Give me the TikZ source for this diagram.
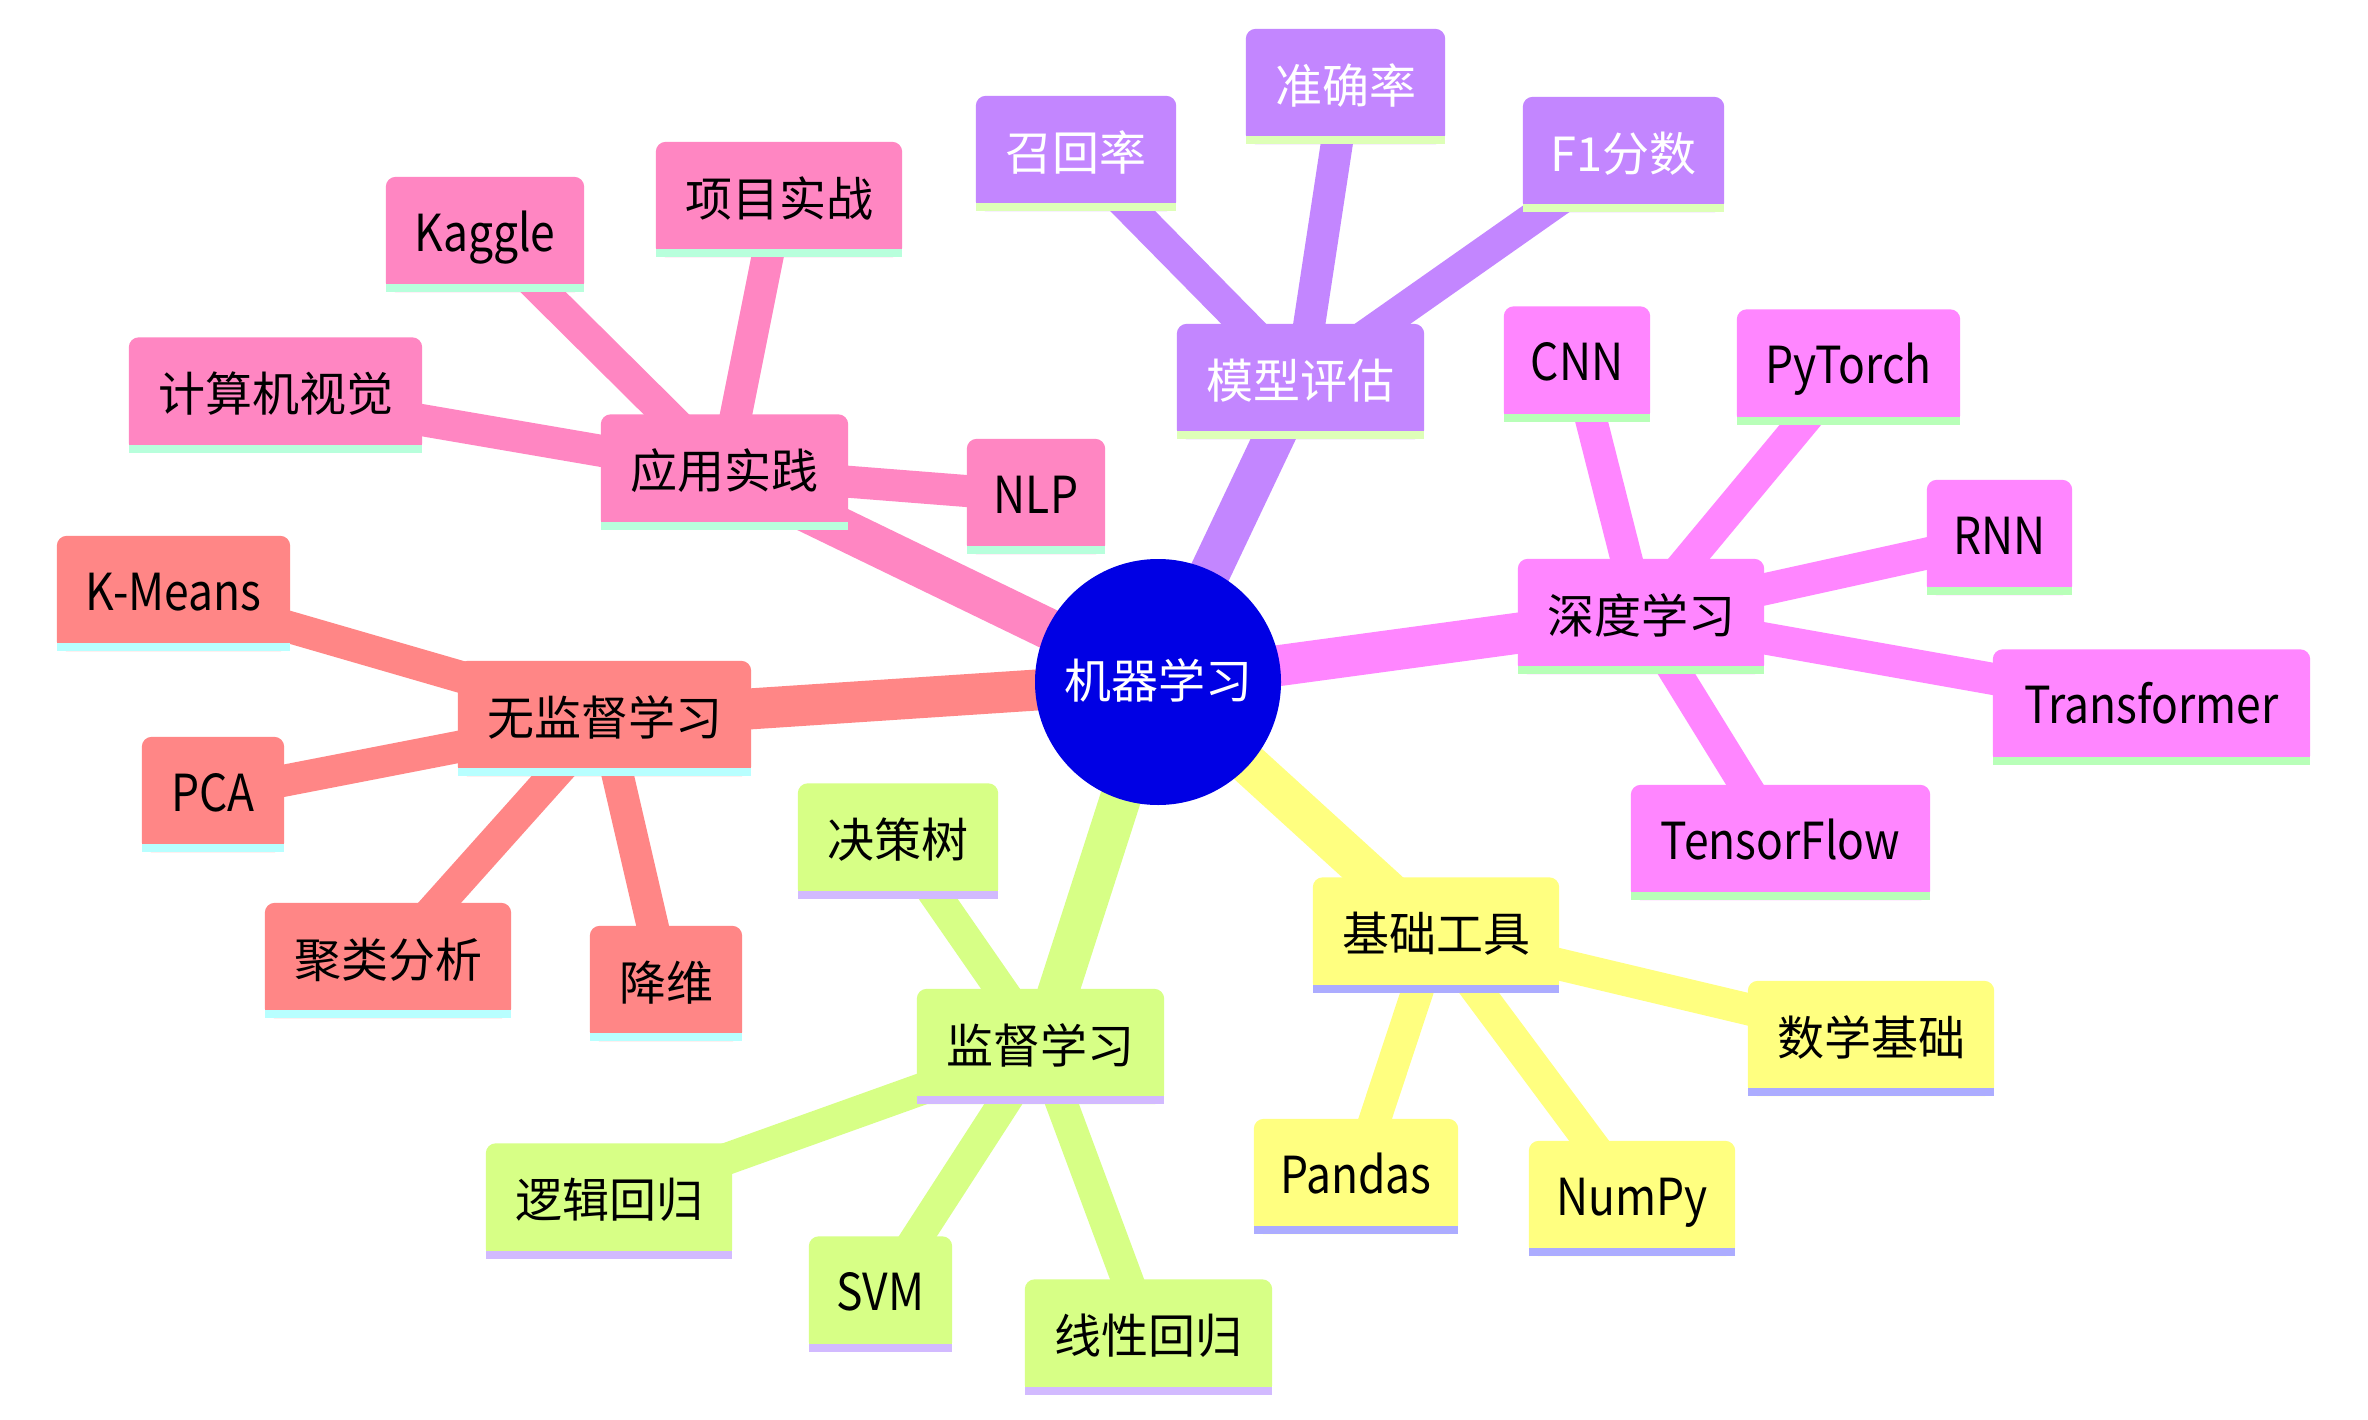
\documentclass[tikz,border=0pt]{standalone}
\usepackage{fontspec}
\setmainfont{Noto Sans CJK SC}
\newfontfamily\latinfont{Noto Sans CJK SC}[FakeStretch=0.87]
\usetikzlibrary{calc}
\pgfdeclarelayer{bg}
\pgfdeclarelayer{edges}
\pgfdeclarelayer{boxes}
\pgfsetlayers{bg,edges,boxes,main}
\definecolor{rootc}{RGB}{0,0,228}
\definecolor{cpink}{RGB}{255,134,194}
\definecolor{spink}{RGB}{184,255,220}
\definecolor{csalm}{RGB}{255,134,134}
\definecolor{ssalm}{RGB}{184,255,255}
\definecolor{clime}{RGB}{215,255,134}
\definecolor{slime}{RGB}{210,186,255}
\definecolor{cyell}{RGB}{255,255,128}
\definecolor{syell}{RGB}{172,172,255}
\definecolor{cmag}{RGB}{255,134,255}
\definecolor{smag}{RGB}{184,255,184}
\definecolor{cpurp}{RGB}{195,134,255}
\definecolor{spurp}{RGB}{222,255,184}
\tikzset{
  mmbox/.style={rectangle, inner sep=0pt, minimum height=115pt, text height=40.4pt, text depth=6.6pt,
    font=\fontsize{47pt}{56pt}\selectfont, text=black},
  latin/.style={font=\latinfont\fontsize{51pt}{60pt}\selectfont},
  rootedge/.style={line width=41pt},
  subedge/.style={line width=32pt}
}
\begin{document}
\begin{tikzpicture}[x=1pt,y=-1pt]
\begin{pgfonlayer}{bg}
\fill[white] (0,0) rectangle (2368,1420);
\end{pgfonlayer}
\useasboundingbox (0,0) rectangle (2368,1420);
% root
\node[circle, fill=rootc, minimum size=246pt, inner sep=0pt, text=white, text height=40.4pt, text depth=6.6pt,
  font=\fontsize{47pt}{56pt}\selectfont] (root) at (1158,682) {机器学习};
% pink section
\node[mmbox, minimum width=247pt] (yyss) at (724.5,472) {应用实践};
\node[mmbox, latin, minimum width=198pt] (kaggle) at (485,234.5) {Kaggle};
\node[mmbox, minimum width=246pt] (xmsz) at (779,199.5) {项目实战};
\node[mmbox, minimum width=293pt] (jsjsj) at (275.5,395) {计算机视觉};
\node[mmbox, latin, minimum width=138pt] (nlp) at (1036,496.5) {NLP};
% salmon section
\node[mmbox, minimum width=293pt] (wjd) at (604.5,718.5) {无监督学习};
\node[mmbox, latin, minimum width=233pt] (kmeans) at (173.5,593.5) {K-Means};
\node[mmbox, latin, minimum width=142pt] (pca) at (213,794.5) {PCA};
\node[mmbox, minimum width=246pt] (jlfx) at (388,960.5) {聚类分析};
\node[mmbox, minimum width=152pt] (jw) at (666,983.5) {降维};
% lime section
\node[mmbox, minimum width=247pt] (jd) at (1040.5,1046.5) {监督学习};
\node[mmbox, minimum width=200pt] (jcs) at (898,841) {决策树};
\node[mmbox, minimum width=246pt] (ljhg) at (609,1201) {逻辑回归};
\node[mmbox, latin, minimum width=143pt] (svm) at (880.5,1294) {SVM};
\node[mmbox, minimum width=247pt] (xxhg) at (1148.5,1337) {线性回归};
% yellow section
\node[mmbox, minimum width=246pt] (jcgj) at (1436,935) {基础工具};
\node[mmbox, minimum width=246pt] (sxjc) at (1871,1038.5) {数学基础};
\node[mmbox, latin, minimum width=204pt] (pandas) at (1356,1176.5) {Pandas};
\node[mmbox, latin, minimum width=206pt] (numpy) at (1632,1198.5) {NumPy};
% magenta section
\node[mmbox, minimum width=246pt] (sdxx) at (1641,616.5) {深度学习};
\node[mmbox, latin, minimum width=146pt] (cnn) at (1577,364) {CNN};
\node[mmbox, latin, minimum width=223pt] (pytorch) at (1848.5,367) {PyTorch};
\node[mmbox, latin, minimum width=145pt] (rnn) at (1999.5,537.5) {RNN};
\node[mmbox, latin, minimum width=317pt] (transformer) at (2151.5,707) {Transformer};
\node[mmbox, latin, minimum width=299pt] (tensorflow) at (1780.5,842.5) {TensorFlow};
% purple section
\node[mmbox, minimum width=247pt, text=white] (mxpg) at (1300.5,381.5) {模型评估};
\node[mmbox, minimum width=200pt, text=white] (zhl) at (1076,153.5) {召回率};
\node[mmbox, minimum width=199pt, text=white] (zql) at (1345.5,86.5) {准确率};
\node[mmbox, minimum width=201pt, text=white] (f1) at (1623.5,154.5) {F1分数};

\begin{pgfonlayer}{boxes}
\foreach \n/\f/\s in {yyss/cpink/spink, kaggle/cpink/spink, xmsz/cpink/spink, jsjsj/cpink/spink, nlp/cpink/spink,
  wjd/csalm/ssalm, kmeans/csalm/ssalm, pca/csalm/ssalm, jlfx/csalm/ssalm, jw/csalm/ssalm,
  jd/clime/slime, jcs/clime/slime, ljhg/clime/slime, svm/clime/slime, xxhg/clime/slime,
  jcgj/cyell/syell, sxjc/cyell/syell, pandas/cyell/syell, numpy/cyell/syell,
  sdxx/cmag/smag, cnn/cmag/smag, pytorch/cmag/smag, rnn/cmag/smag, transformer/cmag/smag, tensorflow/cmag/smag,
  mxpg/cpurp/spurp, zhl/cpurp/spurp, zql/cpurp/spurp, f1/cpurp/spurp}{
  \fill[\f, rounded corners=10pt] (\n.south west) rectangle (\n.north east);
  \fill[\f] (\n.south west) rectangle ([yshift=30pt]\n.south east);
  \fill[\s] (\n.south west) rectangle ([yshift=8pt]\n.south east);
}
\end{pgfonlayer}

\begin{pgfonlayer}{edges}
\foreach \b/\c in {yyss/cpink, wjd/csalm, jd/clime, jcgj/cyell, sdxx/cmag, mxpg/cpurp}
  \draw[rootedge, \c] (root.center) -- (\b.center);
\foreach \a/\b/\c in {yyss/kaggle/cpink, yyss/xmsz/cpink, yyss/jsjsj/cpink, yyss/nlp/cpink,
  wjd/kmeans/csalm, wjd/pca/csalm, wjd/jlfx/csalm, wjd/jw/csalm,
  jd/jcs/clime, jd/ljhg/clime, jd/svm/clime, jd/xxhg/clime,
  jcgj/sxjc/cyell, jcgj/pandas/cyell, jcgj/numpy/cyell,
  sdxx/cnn/cmag, sdxx/pytorch/cmag, sdxx/rnn/cmag, sdxx/transformer/cmag, sdxx/tensorflow/cmag,
  mxpg/zhl/cpurp, mxpg/zql/cpurp, mxpg/f1/cpurp}
  \draw[subedge, \c] (\a.center) -- (\b.center);
\end{pgfonlayer}
\end{tikzpicture}
\end{document}
